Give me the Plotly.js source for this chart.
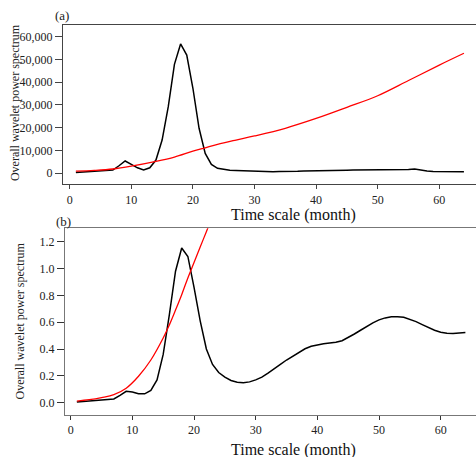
<!DOCTYPE html>
<html>
<head>
<meta charset="utf-8">
<script src="https://cdn.plot.ly/plotly-3.0.1.min.js"></script>
<style>html,body{margin:0;padding:0;background:#fff;}#chart{width:476px;height:457px;}</style>
</head>
<body>
<div id="chart"></div>
<script>
// Time scale (month)
const months = Array.from({length: 64}, (_, i) => i + 1);

// Panel (a): overall wavelet power spectrum (black) and significance curve (red)
const powerA = [200, 350, 500, 650, 800, 1000, 1300, 3200, 5300, 3800,
  2300, 1400, 2300, 5700, 14500, 29200, 47800, 56800, 51900, 37300,
  19700, 8650, 3800, 2050, 1500, 1200, 1100, 1000, 950, 900,
  700, 500, 550, 650, 600, 650, 750, 850, 950, 1000,
  1100, 1150, 1200, 1200, 1250, 1300, 1300, 1350, 1400, 1450,
  1450, 1450, 1450, 1450, 1500, 1800, 1200, 850, 700, 700,
  700, 650, 600, 550];
const sigMonthsA = [1, 4, 7, 10, 14, 17, 20, 22, 24, 27, 30, 35, 40, 45, 50, 55, 60, 64];
const sigA = [800, 1150, 1760, 3000, 5100, 7000, 9600, 11100, 12600, 14500, 16300, 19700, 24000, 28900, 34000, 40700, 47500, 52700];

// Panel (b)
const powerB = [0.005, 0.008, 0.011, 0.014, 0.018, 0.022, 0.028, 0.055, 0.085, 0.080,
  0.066, 0.066, 0.092, 0.170, 0.360, 0.656, 0.980, 1.153, 1.090, 0.860,
  0.610, 0.400, 0.285, 0.225, 0.190, 0.165, 0.152, 0.148, 0.155, 0.170,
  0.190, 0.220, 0.250, 0.285, 0.318, 0.348, 0.378, 0.402, 0.420, 0.432,
  0.440, 0.445, 0.450, 0.462, 0.485, 0.512, 0.540, 0.568, 0.595, 0.617,
  0.632, 0.640, 0.641, 0.636, 0.622, 0.604, 0.582, 0.560, 0.540, 0.525,
  0.517, 0.515, 0.518, 0.523];
const sigMonthsB = [1, 3, 5, 7, 9, 11, 13, 15, 16, 17, 18, 19, 20, 21, 22, 23];
const sigB = [0.012, 0.022, 0.038, 0.060, 0.108, 0.197, 0.318, 0.482, 0.580, 0.690, 0.805, 0.930, 1.045, 1.160, 1.275, 1.390];

const xTicks = [0, 10, 20, 30, 40, 50, 60];
const yTicksA = [0, 10000, 20000, 30000, 40000, 50000, 60000];
const yTicksB = [0.0, 0.2, 0.4, 0.6, 0.8, 1.0, 1.2];
const yTickTextB = yTicksB.map(v => v.toFixed(1));

const serif = 'Liberation Serif';

const traces = [
  {x: months, y: powerA, xaxis: 'x', yaxis: 'y', mode: 'lines', line: {color: '#000', width: 1.5}},
  {x: sigMonthsA, y: sigA, xaxis: 'x', yaxis: 'y', mode: 'lines', line: {color: '#ff0000', width: 1.3, shape: 'spline'}},
  {x: months, y: powerB, xaxis: 'x2', yaxis: 'y2', mode: 'lines', line: {color: '#000', width: 1.5}},
  {x: sigMonthsB, y: sigB, xaxis: 'x2', yaxis: 'y2', mode: 'lines', line: {color: '#ff0000', width: 1.3, shape: 'spline'}}
];

function axis(extra) {
  return Object.assign({
    showgrid: false, zeroline: false, showline: true, ticks: 'outside', tickwidth: 1,
    tickfont: {family: serif, size: 12, color: '#222'}
  }, extra);
}

const layout = {
  width: 476, height: 457,
  margin: {l: 63, r: 0, t: 25, b: 42},
  paper_bgcolor: '#fff', plot_bgcolor: '#fff',
  showlegend: false,
  font: {family: serif, color: '#222'},
  xaxis: axis({
    domain: [0, 1], anchor: 'y', range: [-1.09, 65.96], tickvals: xTicks, ticklen: 4,
    linecolor: '#444', tickcolor: '#444', mirror: true
  }),
  yaxis: axis({
    domain: [0.5915, 1], anchor: 'x', range: [-4970, 65140], tickvals: yTicksA, ticklen: 7,
    tickformat: ',d', linecolor: '#444', tickcolor: '#444'
  }),
  xaxis2: axis({
    domain: [0.0048, 1], anchor: 'y2', range: [-0.924, 65.72], tickvals: xTicks, ticklen: 4,
    linecolor: '#777', tickcolor: '#333', mirror: true
  }),
  yaxis2: axis({
    domain: [0, 0.4787], anchor: 'x2', range: [-0.092, 1.30], tickvals: yTicksB, ticklen: 7,
    tickmode: 'array', ticktext: yTickTextB, linecolor: '#777', tickcolor: '#333'
  }),
  annotations: [
    {text: '(a)', xref: 'paper', yref: 'paper', x: -0.002, y: 1.0, xanchor: 'center', yanchor: 'bottom', yshift: 0,
     showarrow: false, font: {family: serif, size: 13, color: '#222'}},
    {text: '(b)', xref: 'paper', yref: 'paper', x: 0.0, y: 0.4787, xanchor: 'center', yanchor: 'bottom', yshift: -3,
     showarrow: false, font: {family: serif, size: 13, color: '#222'}},
    {text: 'Time scale (month)', xref: 'x', yref: 'paper', x: 36.3, y: 0.5915, yshift: -31, xanchor: 'center', yanchor: 'middle',
     showarrow: false, font: {family: serif, size: 16, color: '#111'}},
    {text: 'Time scale (month)', xref: 'x2', yref: 'paper', x: 36.2, y: 0, yshift: -35, xanchor: 'center', yanchor: 'middle',
     showarrow: false, font: {family: serif, size: 16, color: '#111'}},
    {text: 'Overall wavelet power spectrum', xref: 'paper', yref: 'paper', x: -0.116, y: 0.80, textangle: -90,
     xanchor: 'center', yanchor: 'middle', showarrow: false, font: {family: serif, size: 12, color: '#222'}},
    {text: 'Overall wavelet power spectrum', xref: 'paper', yref: 'paper', x: -0.104, y: 0.24, textangle: -90,
     xanchor: 'center', yanchor: 'middle', showarrow: false, font: {family: serif, size: 12, color: '#222'}}
  ]
};

Plotly.newPlot('chart', traces, layout, {displayModeBar: false, staticPlot: true});
</script>
</body>
</html>
